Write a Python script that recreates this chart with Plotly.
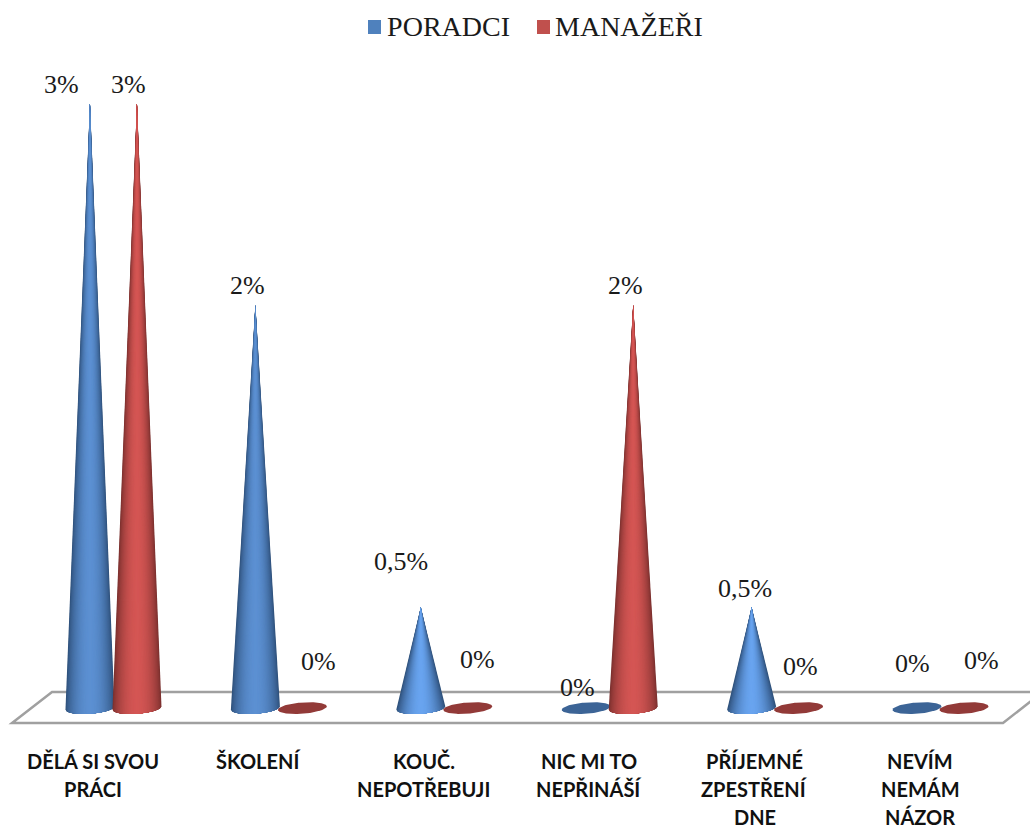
import math
import plotly.graph_objects as go

# Survey results per answer, in percent
categories = [
    "DĚLÁ SI SVOU<br>PRÁCI",
    "ŠKOLENÍ",
    "KOUČ.<br>NEPOTŘEBUJI",
    "NIC MI TO<br>NEPŘINÁŠÍ",
    "PŘÍJEMNÉ<br>ZPESTŘENÍ<br>DNE",
    "NEVÍM<br>NEMÁM<br>NÁZOR",
]
poradci = [3, 2, 0.5, 0, 0.5, 0]
manazeri = [3, 0, 0, 2, 0, 0]

WIDTH, HEIGHT = 1030, 830
X_RANGE = [-0.686, 5.541]
Y_RANGE = [-0.605, 3.514]
PX_X = WIDTH / (X_RANGE[1] - X_RANGE[0])
PX_Y = HEIGHT / (Y_RANGE[1] - Y_RANGE[0])

GROUP_OFFSET = 23.5 / PX_X
CONE_HALF_W = 24.5 / PX_X
ELLIPSE_H = 5.6 / PX_Y
ELLIPSE_TILT = 1.7 / PX_Y
SHELLS = 40

# (edge colour, centre colour, flat disc colour, swatch colour)
PALETTE = {
    "PORADCI": ((46, 80, 122), (92, 144, 210), (60, 100, 150), "#4f81bd"),
    "MANAŽEŘI": ((122, 48, 46), (212, 86, 84), (146, 58, 56), "#c0504d"),
}

# Pixel nudges of the value labels relative to each cone tip
LABEL_SHIFT = {
    "PORADCI": [(-28, 19), (-8, 20), (-20, 46), (-9, 21), (-7, 19), (-5, 45)],
    "MANAŽEŘI": [(-8, 19), (16, 47), (10, 49), (-8, 20), (2, 42), (17, 48)],
}


def mix(a, b, t):
    return tuple(round(a[i] + (b[i] - a[i]) * t) for i in range(3))


def base_rim(u, sign):
    """Rim of the tilted base ellipse at normalised position u in [-1, 1]."""
    return u * ELLIPSE_TILT - sign * ELLIPSE_H * math.sqrt(max(0.0, 1 - u * u))


def add_disc(fig, cx, color):
    n = 60
    us = [math.cos(math.pi * k / n) for k in range(2 * n + 1)]
    xs = [cx + u * CONE_HALF_W for u in us]
    ys = [base_rim(u, 1 if k > n else -1) for k, u in enumerate(us)]
    fig.add_trace(go.Scatter(x=xs, y=ys, mode="lines", fill="toself", fillcolor=color,
                             line=dict(width=0), hoverinfo="skip", showlegend=False))


def add_cone(fig, cx, value, name):
    edge, centre, flat, _ = PALETTE[name]
    if value == 0:
        add_disc(fig, cx, "rgb(%d,%d,%d)" % flat)
        return
    # The short cones catch more light in the middle
    boost = 0.0 if value > 1 else 0.14
    # Nested shells from the silhouette inwards give a seamless horizontal shading
    for k in range(SHELLS):
        span = 1 - k / SHELLS
        t = math.cos(span * math.pi / 2) ** 0.7
        col = mix(edge, centre, t)
        col = tuple(min(255, round(c * (1 + boost * t))) for c in col)
        us = [-span + 2 * span * j / 24 for j in range(25)]
        xs = [cx + u * CONE_HALF_W for u in us] + [cx]
        ys = [base_rim(u, 1) for u in us] + [value]
        fig.add_trace(go.Scatter(x=xs, y=ys, mode="lines", fill="toself",
                                 fillcolor="rgb(%d,%d,%d)" % col, line=dict(width=0),
                                 hoverinfo="skip", showlegend=False))


def pct(v):
    return f"{v:g}".replace(".", ",") + "%"


def px(x, y):
    return f"{x / WIDTH:.4f} {1 - y / HEIGHT:.4f}"


fig = go.Figure()

series = [("PORADCI", poradci, -GROUP_OFFSET), ("MANAŽEŘI", manazeri, GROUP_OFFSET)]
annotations = []
for name, values, offset in series:
    # Legend entry; its square swatch is placed closer to the text as a shape below
    fig.add_trace(go.Scatter(x=[None], y=[None], mode="markers", name=name,
                             marker=dict(symbol="square", size=13, color="rgba(0,0,0,0)")))
    for i, v in enumerate(values):
        add_cone(fig, i + offset, v, name)
        dx, dy = LABEL_SHIFT[name][i]
        annotations.append(dict(x=i + offset, y=v, xref="x", yref="y", text=pct(v),
                                showarrow=False, xshift=dx, yshift=dy,
                                font=dict(family="Liberation Serif", size=26, color="#1a1a1a")))

# Category captions, one annotation per line for the wide leading
for i, cat in enumerate(categories):
    for j, line in enumerate(cat.split("<br>")):
        annotations.append(dict(x=i - GROUP_OFFSET, y=0, xref="x", yref="y", text=line,
                                showarrow=False, xshift=3, yshift=-53 - 28 * j,
                                font=dict(family="Lato", size=20, color="#111111", weight="bold")))

# Floor plane behind the cones
floor = "M " + " L ".join(px(*p) for p in [(12, 723), (52, 692), (1040, 692), (1040, 694), (1003, 723)]) + " Z"
shapes = [dict(type="path", xref="paper", yref="paper", path=floor, fillcolor="white",
               line=dict(color="#a0a0a0", width=2.5), layer="below")]

# Legend swatches
for x0, name in [(368, "PORADCI"), (537, "MANAŽEŘI")]:
    shapes.append(dict(type="rect", xref="paper", yref="paper",
                       x0=x0 / WIDTH, x1=(x0 + 13) / WIDTH,
                       y0=1 - 34 / HEIGHT, y1=1 - 20 / HEIGHT,
                       fillcolor=PALETTE[name][3], line=dict(width=0)))

fig.update_layout(
    width=WIDTH, height=HEIGHT,
    margin=dict(l=0, r=0, t=0, b=0),
    paper_bgcolor="white", plot_bgcolor="white",
    xaxis=dict(range=X_RANGE, visible=False, fixedrange=True),
    yaxis=dict(range=Y_RANGE, visible=False, fixedrange=True),
    shapes=shapes,
    annotations=annotations,
    legend=dict(orientation="h", x=0.337, y=0.9995, xanchor="left", yanchor="top",
                font=dict(family="Liberation Serif", size=28, color="#1a1a1a"),
                itemwidth=30, bgcolor="rgba(0,0,0,0)"),
)

fig.write_html("out.html")
